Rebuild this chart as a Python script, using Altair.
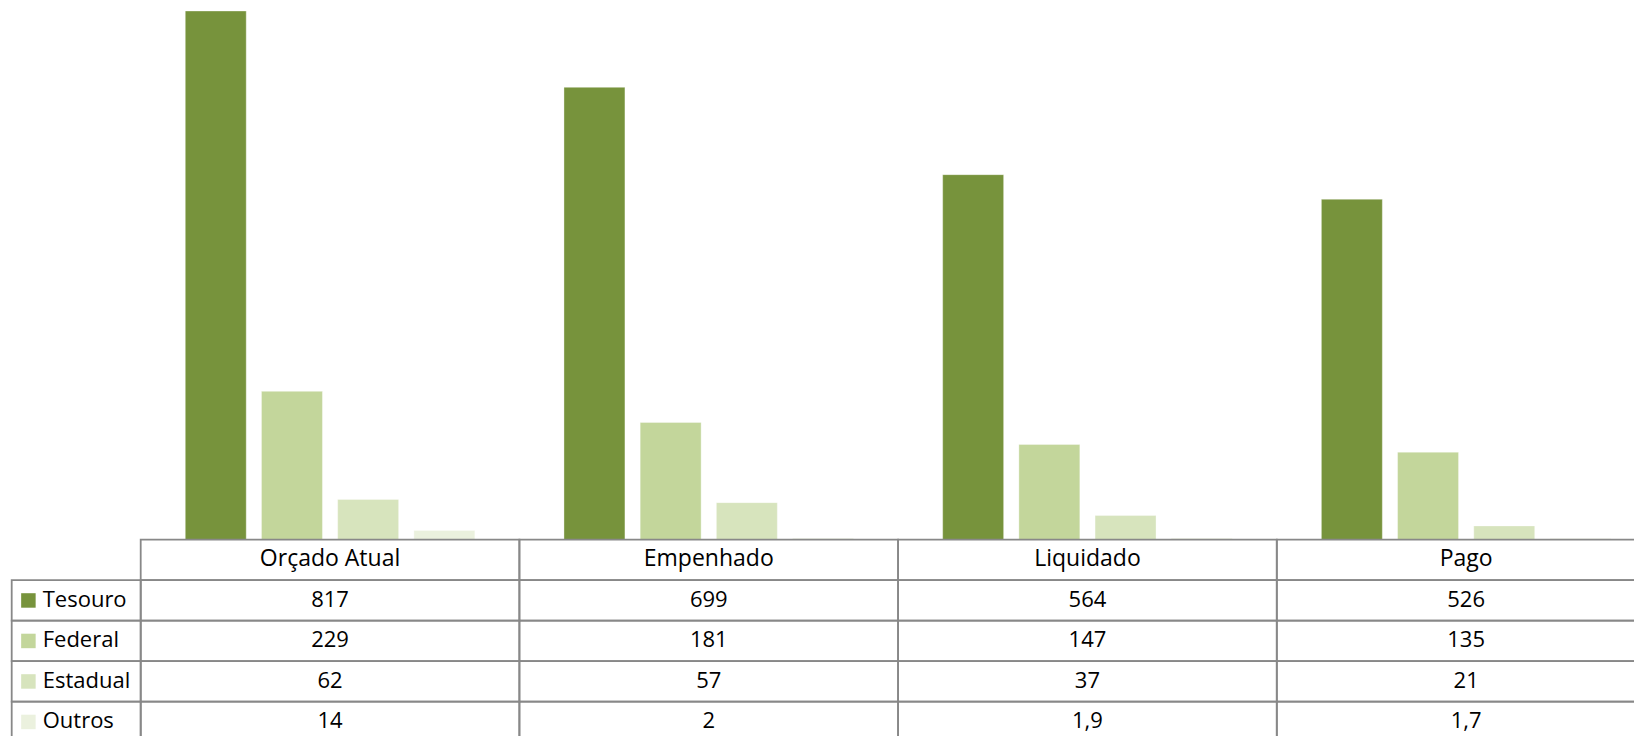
import altair as alt
import pandas as pd

# ---- data ----
categories = ["Orçado Atual", "Empenhado", "Liquidado", "Pago"]
series = ["Tesouro", "Federal", "Estadual", "Outros"]
tesouro = [817, 699, 564, 526]
federal = [229, 181, 147, 135]
estadual = [62, 57, 37, 21]
outros = [14, 2, 1.9, 1.7]
colors = ["#77933C", "#C3D69B", "#D7E4BD", "#EBF1DE"]
header_key = "cab"


def fmt(v):
    return f"{v:g}".replace(".", ",")


records = []
for s, vals in zip(series, [tesouro, federal, estadual, outros]):
    for c, v in zip(categories, vals):
        records.append({"categoria": c, "fonte": s, "valor": v, "rotulo": fmt(v)})
df = pd.DataFrame(records)
hdr = pd.DataFrame({"categoria": categories, "fonte": [header_key] * len(categories)})
lab = pd.DataFrame({"fonte": series})

W, H = 1626, 728
FONT = "Open Sans"
FS = 22
DY = 6.5
LINE = "#888888"
ROW_STEP = 40.5
TABLE_TOP = 531.7

xscale = alt.Scale(domain=categories, range=[132.7, 1647.5], paddingInner=0, paddingOuter=0)
rowscale = alt.Scale(
    domain=[header_key] + series,
    range=[TABLE_TOP, TABLE_TOP + 5 * ROW_STEP],
    paddingInner=0,
    paddingOuter=0,
)
colscale = alt.Scale(domain=series, range=colors)

X = alt.X("categoria:N", scale=xscale, axis=None)
ROW = alt.Y("fonte:N", scale=rowscale, axis=None)

bars = alt.Chart(df).mark_bar(stroke="white", strokeOpacity=0.35, strokeWidth=1).encode(
    x=X,
    xOffset=alt.XOffset("fonte:N", scale=alt.Scale(domain=series, paddingInner=0.2, paddingOuter=0.585)),
    y=alt.Y("valor:Q", scale=alt.Scale(domain=[0, 817], range=[531.5, 3], nice=False), axis=None),
    color=alt.Color("fonte:N", scale=colscale, legend=None),
)

cells = alt.Chart(pd.concat([hdr, df[["categoria", "fonte"]]])).mark_rect(
    fill="white", fillOpacity=0, stroke=LINE, strokeWidth=1.8
).encode(x=X, y=ROW)

label_cells = alt.Chart(lab).mark_rect(
    fill="white", fillOpacity=0, stroke=LINE, strokeWidth=1.8
).encode(x=alt.value(3.7), x2=alt.value(132.7), y=ROW)

txt = dict(font=FONT, color="#000000", baseline="alphabetic", dy=DY)

header_text = alt.Chart(hdr).mark_text(fontSize=23, **txt).encode(x=X, y=ROW, text="categoria:N")

value_text = alt.Chart(df).mark_text(fontSize=FS, **txt).encode(x=X, y=ROW, text="rotulo:N")

squares = alt.Chart(lab).mark_square(size=210, opacity=1, filled=True).encode(
    x=alt.value(20.4), y=ROW, color=alt.Color("fonte:N", scale=colscale, legend=None)
)

label_text = alt.Chart(lab).mark_text(align="left", fontSize=FS, **txt).encode(
    x=alt.value(34.7), y=ROW, text="fonte:N"
)

chart = (
    alt.layer(bars, cells, label_cells, header_text, value_text, squares, label_text)
    .resolve_scale(y="independent")
    .properties(width=W, height=H, padding=0, autosize=alt.AutoSizeParams(type="none"), background="white")
    .configure_view(stroke=None)
)

chart.save("out.html", embed_options={"renderer": "svg", "actions": False})
